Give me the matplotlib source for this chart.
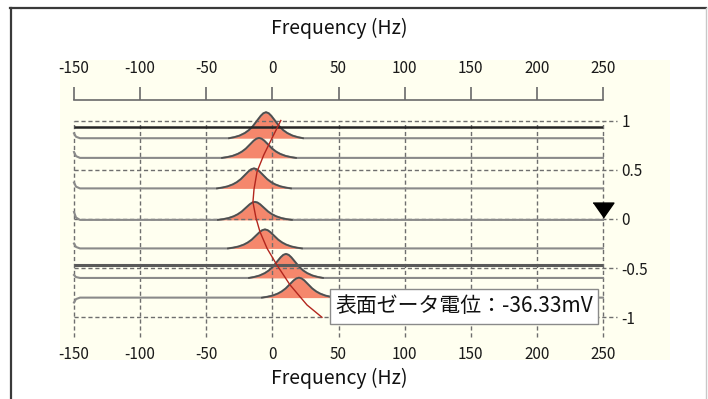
import matplotlib
matplotlib.use('Agg')
import matplotlib.pyplot as plt
from matplotlib.lines import Line2D
from matplotlib.patches import Rectangle

plt.rcParams['font.family'] = ['Noto Sans CJK JP', 'DejaVu Sans']

# ---------------- data ----------------
x_ticks = [-150, -100, -50, 0, 50, 100, 150, 200, 250]
x_tick_labels = ['-150', '-100', '-50', '0', '50', '100', '150', '200', '250']
y_ticks = [1, 0.5, 0, -0.5, -1]
y_tick_labels = ['1', '0.5', '0', '-0.5', '-1']

# spectra stacked at different cell depths
baselines = [0.82, 0.62, 0.31, -0.01, -0.30, -0.60, -0.80]
peak_centers = [-4.8, -10.1, -13.9, -13.2, -5.6, 10.3, 20.1]
peak_heights = [0.264, 0.203, 0.203, 0.183, 0.193, 0.244, 0.203]
edge_hooks = [0.05, 0.06, 0.06, 0.08, 0.05, 0.03, -0.05]

# shape of a peak (offset in Hz, relative level)
profile_offsets = [-28, -24, -20, -16, -13, -10, -7, -4, -2, 0, 2, 4, 7, 10, 13, 16, 20, 24, 28]
profile_levels = [0.0, 0.04, 0.10, 0.20, 0.31, 0.46, 0.66, 0.86, 0.96, 1.0,
                  0.96, 0.86, 0.66, 0.46, 0.31, 0.20, 0.10, 0.04, 0.0]

# fitted mobility profile (red curve)
trend_level = [1.0, 0.82, 0.65, 0.48, 0.30, 0.17, 0.01, -0.13, -0.30, -0.47, -0.67, -0.875, -1.0]
trend_freq = [6.4, -0.3, -6.5, -11.6, -13.9, -14.7, -12.4, -9.4, -4.0, 3.5, 13.3, 26.2, 37.5]

# stationary-layer reference lines
ref_levels = [0.934, -0.468]

marker_freq = [250]
marker_level = [0.09]

zeta_label = '表面ゼータ電位：-36.33mV'
axis_label = 'Frequency (Hz)'

# ---------------- figure ----------------
W, H = 708, 399
fig = plt.figure(figsize=(W / 100, H / 100), dpi=100)
fig.patch.set_facecolor('white')

# window frame
fig.add_artist(Line2D([10.5 / W, 10.5 / W], [0, 1 - 7.5 / H], color='#3a3a3a', lw=1.6))
fig.add_artist(Line2D([10 / W, 706 / W], [1 - 7.5 / H, 1 - 7.5 / H], color='#3a3a3a', lw=1.6))
fig.add_artist(Line2D([705.5 / W, 705.5 / W], [0, 1 - 7.5 / H], color='#c8c8c8', lw=1.0))

# cream panel
fig.add_artist(Rectangle((60 / W, (H - 360) / H), 610 / W, 300 / H,
                         transform=fig.transFigure, facecolor='#FFFFF0',
                         edgecolor='none', zorder=0))

py_top, py_bot = 120.5, 317.3
ax = fig.add_axes([74 / W, (H - py_bot) / H, 529 / W, (py_bot - py_top) / H])
ax.set_xlim(-150, 250)
ax.set_ylim(-1, 1)
ax.patch.set_visible(False)
for s in ax.spines.values():
    s.set_visible(False)

grid_kw = dict(colors='#6e6e6e', linewidths=1.0, linestyles=(0, (3.0, 2.0)),
               clip_on=False, zorder=2.5)
ax.hlines(y_ticks, -150, 260.5, **grid_kw)
ax.vlines(x_ticks, -1.2, 1.0, **grid_kw)

# spectra
for b, c, h, hook in zip(baselines, peak_centers, peak_heights, edge_hooks):
    px = [c + o for o in profile_offsets]
    py = [b + h * l for l in profile_levels]
    ax.fill_between(px, b, py, color='#F5876C', lw=0, zorder=2, clip_on=False)
    xs = [-150, -148.5, -145.5] + px + [250]
    ys = [b + hook, b + hook * 0.3, b] + py + [b]
    ax.plot(xs, ys, color='#8a8a8a', lw=1.5, zorder=3, clip_on=False,
            solid_joinstyle='round')
    ax.plot(px, py, color='#4e4e4e', lw=1.2, zorder=3.2, clip_on=False,
            solid_joinstyle='round')

ax.hlines(ref_levels[0], -150, 250, colors='#262626', lw=1.8, zorder=4)
ax.hlines(ref_levels[1], -150, 250, colors='#5a5a5a', lw=2.2, zorder=4)

ax.plot(trend_freq, trend_level, color='#B3261E', lw=1.0, zorder=5, clip_on=False)

ax.plot(marker_freq, marker_level, linestyle='none', color='black', zorder=6,
        marker=[(-1, 0.714), (1, 0.714), (0, -0.714)], markersize=15,
        clip_on=False)

# annotation box
ax.add_patch(Rectangle((43.6, -1.068), 202.6, 0.356, facecolor='white',
                       edgecolor='#8a8a8a', lw=1.0, zorder=7, clip_on=False))
ax.text(145.0, -0.89, zeta_label, ha='center', va='center', fontsize=15,
        color='#111111', zorder=8)

# ticks: bottom labels, right labels
ax.set_xticks(x_ticks)
ax.set_xticklabels(x_tick_labels)
ax.tick_params(axis='x', length=0, pad=20.5, labelsize=11, labelcolor='#1a1a1a')
ax.set_yticks(y_ticks)
ax.set_yticklabels(y_tick_labels)
ax.yaxis.tick_right()
ax.tick_params(axis='y', length=0, pad=13.5, labelsize=11, labelcolor='#1a1a1a')

# top bracket axis
secax = ax.secondary_xaxis(1.104)
secax.set_xticks(x_ticks)
secax.set_xticklabels(x_tick_labels)
secax.spines['top'].set_color('#6a6a6a')
secax.spines['top'].set_linewidth(1.2)
secax.tick_params(axis='x', direction='out', length=9.4, width=1.2,
                  color='#6a6a6a', pad=7.5, labelsize=11, labelcolor='#1a1a1a')

fig.text(339 / W, 1 - 28 / H, axis_label, ha='center', va='center',
         fontsize=14, color='#111111')
fig.text(339 / W, 1 - 378 / H, axis_label, ha='center', va='center',
         fontsize=14, color='#111111')

fig.savefig('out.png', dpi=100)
